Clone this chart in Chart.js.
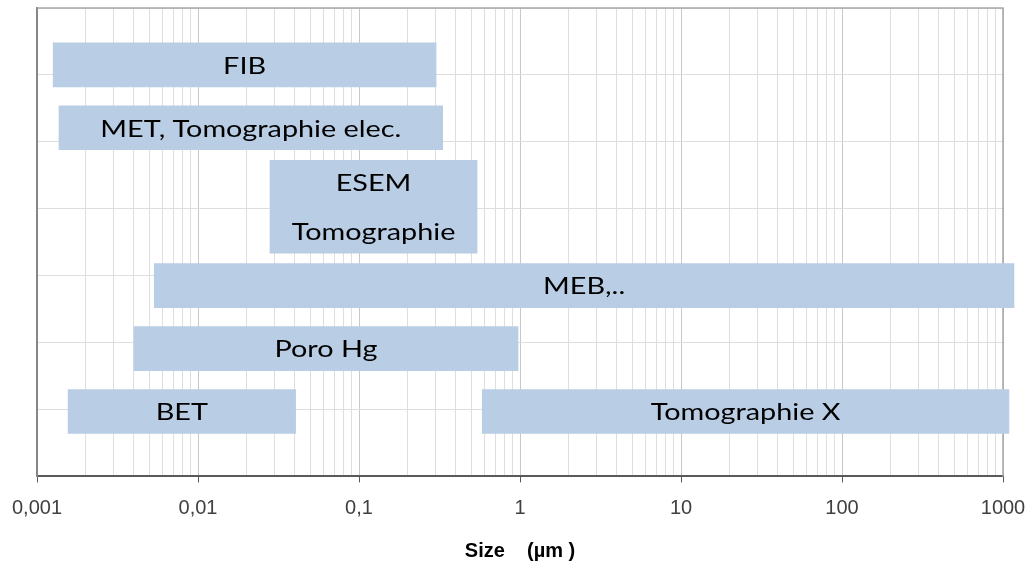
<!DOCTYPE html>
<html><head><meta charset="utf-8">
<script src="https://cdn.jsdelivr.net/npm/chart.js@4/dist/chart.umd.min.js"></script>
<style>html,body{margin:0;padding:0;background:#fff}</style>
</head><body>
<canvas id="c" width="1030" height="564"></canvas>
<script>
// ---- data ----
const techniques = ['FIB', 'MET, Tomographie elec.', 'ESEM\nTomographie', 'MEB,..', 'Poro Hg', 'BET', 'Tomographie X'];
const rows       = [6.15, 5.21, 4.03, 2.85, 1.91, 0.97, 0.97];
const sizeMin    = [0.00126, 0.00137, 0.028, 0.00535, 0.0040, 0.00156, 0.583];
const sizeMax    = [0.301, 0.331, 0.541, 1170, 0.972, 0.0404, 1089];
const tickValues = [0.001, 0.01, 0.1, 1, 10, 100, 1000];
const tickLabels = ['0,001', '0,01', '0,1', '1', '10', '100', '1000'];
const axisTitle  = 'Size    (µm )';

// ---- helpers ----
const decadeIndex = v => tickValues.findIndex(t => Math.abs(v / t - 1) < 1e-6);
const mantissa = v => v / Math.pow(10, Math.floor(Math.log10(v) + 1e-9));

const barColor = '#b9cde5';
const datasets = techniques.map((t, i) => ({
  label: t,
  data: [{ x: [sizeMin[i], sizeMax[i]], y: rows[i] }],
  backgroundColor: barColor,
  borderWidth: 0,
  barThickness: t.includes('\n') ? 93 : 44,
  grouped: false,
  clip: false
}));

const frame = {
  id: 'frame',
  beforeDatasetsDraw(chart) {
    const { ctx, chartArea: a } = chart;
    ctx.save();
    ctx.strokeStyle = '#a6a6a6';
    ctx.lineWidth = 1.5;
    ctx.beginPath();
    ctx.moveTo(a.left, a.top); ctx.lineTo(a.right, a.top); ctx.lineTo(a.right, a.bottom);
    ctx.stroke();
    ctx.restore();
  }
};

const barLabels = {
  id: 'barLabels',
  afterDatasetsDraw(chart) {
    const { ctx } = chart;
    ctx.save();
    ctx.fillStyle = '#000000';
    ctx.font = '24px Lato';
    ctx.textAlign = 'center';
    ctx.textBaseline = 'alphabetic';
    chart.data.datasets.forEach((ds, i) => {
      const el = chart.getDatasetMeta(i).data[0];
      const p = el.getProps(['x', 'y', 'base'], true);
      const cx = (p.x + p.base) / 2;
      const lines = ds.label.split('\n');
      const gap = 49;
      lines.forEach((ln, k) => {
        const cy = p.y + (k - (lines.length - 1) / 2) * gap;
        ctx.save();
        ctx.translate(cx, cy + 8.8);
        ctx.scale(1.2, 1);
        ctx.fillText(ln, 0, 0);
        ctx.restore();
      });
    });
    ctx.restore();
  }
};

new Chart(document.getElementById('c'), {
  type: 'bar',
  data: { datasets },
  options: {
    indexAxis: 'y',
    responsive: false,
    animation: false,
    events: [],
    layout: { padding: { left: 37, right: 27, top: 8, bottom: 0 } },
    plugins: { legend: { display: false }, tooltip: { enabled: false } },
    scales: {
      x: {
        type: 'logarithmic',
        position: 'bottom',
        min: 0.001,
        max: 1000,
        afterBuildTicks: s => { s.ticks = s.ticks.filter(t => Math.abs(mantissa(t.value) - 1.5) > 1e-6); },
        afterFit: s => { s.paddingLeft = 0; s.paddingRight = 0; },
        ticks: {
          autoSkip: false,
          maxRotation: 0,
          padding: 14,
          color: '#404040',
          font: { family: 'Liberation Sans', size: 20 },
          callback: v => { const k = decadeIndex(v); return k >= 0 ? tickLabels[k] : ''; }
        },
        grid: {
          lineWidth: 1,
          color: c => (c.tick && decadeIndex(c.tick.value) >= 0) ? '#c8c8c8' : '#dedede',
          tickColor: c => (c.tick && decadeIndex(c.tick.value) >= 0) ? '#595959' : 'rgba(0,0,0,0)',
          tickLength: 6
        },
        border: { color: '#595959', width: 2 },
        title: {
          display: true,
          text: axisTitle,
          color: '#000',
          font: { family: 'Liberation Sans', size: 20, weight: 'bold' },
          padding: { top: 4.6, bottom: 1 }
        }
      },
      y: {
        type: 'linear',
        min: 0,
        max: 7,
        offset: false,
        ticks: { stepSize: 1, display: false },
        grid: { offset: false, drawTicks: false, color: '#dedede', lineWidth: 1 },
        border: { color: '#868686', width: 2 }
      }
    }
  },
  plugins: [frame, barLabels]
});
</script>
</body></html>
